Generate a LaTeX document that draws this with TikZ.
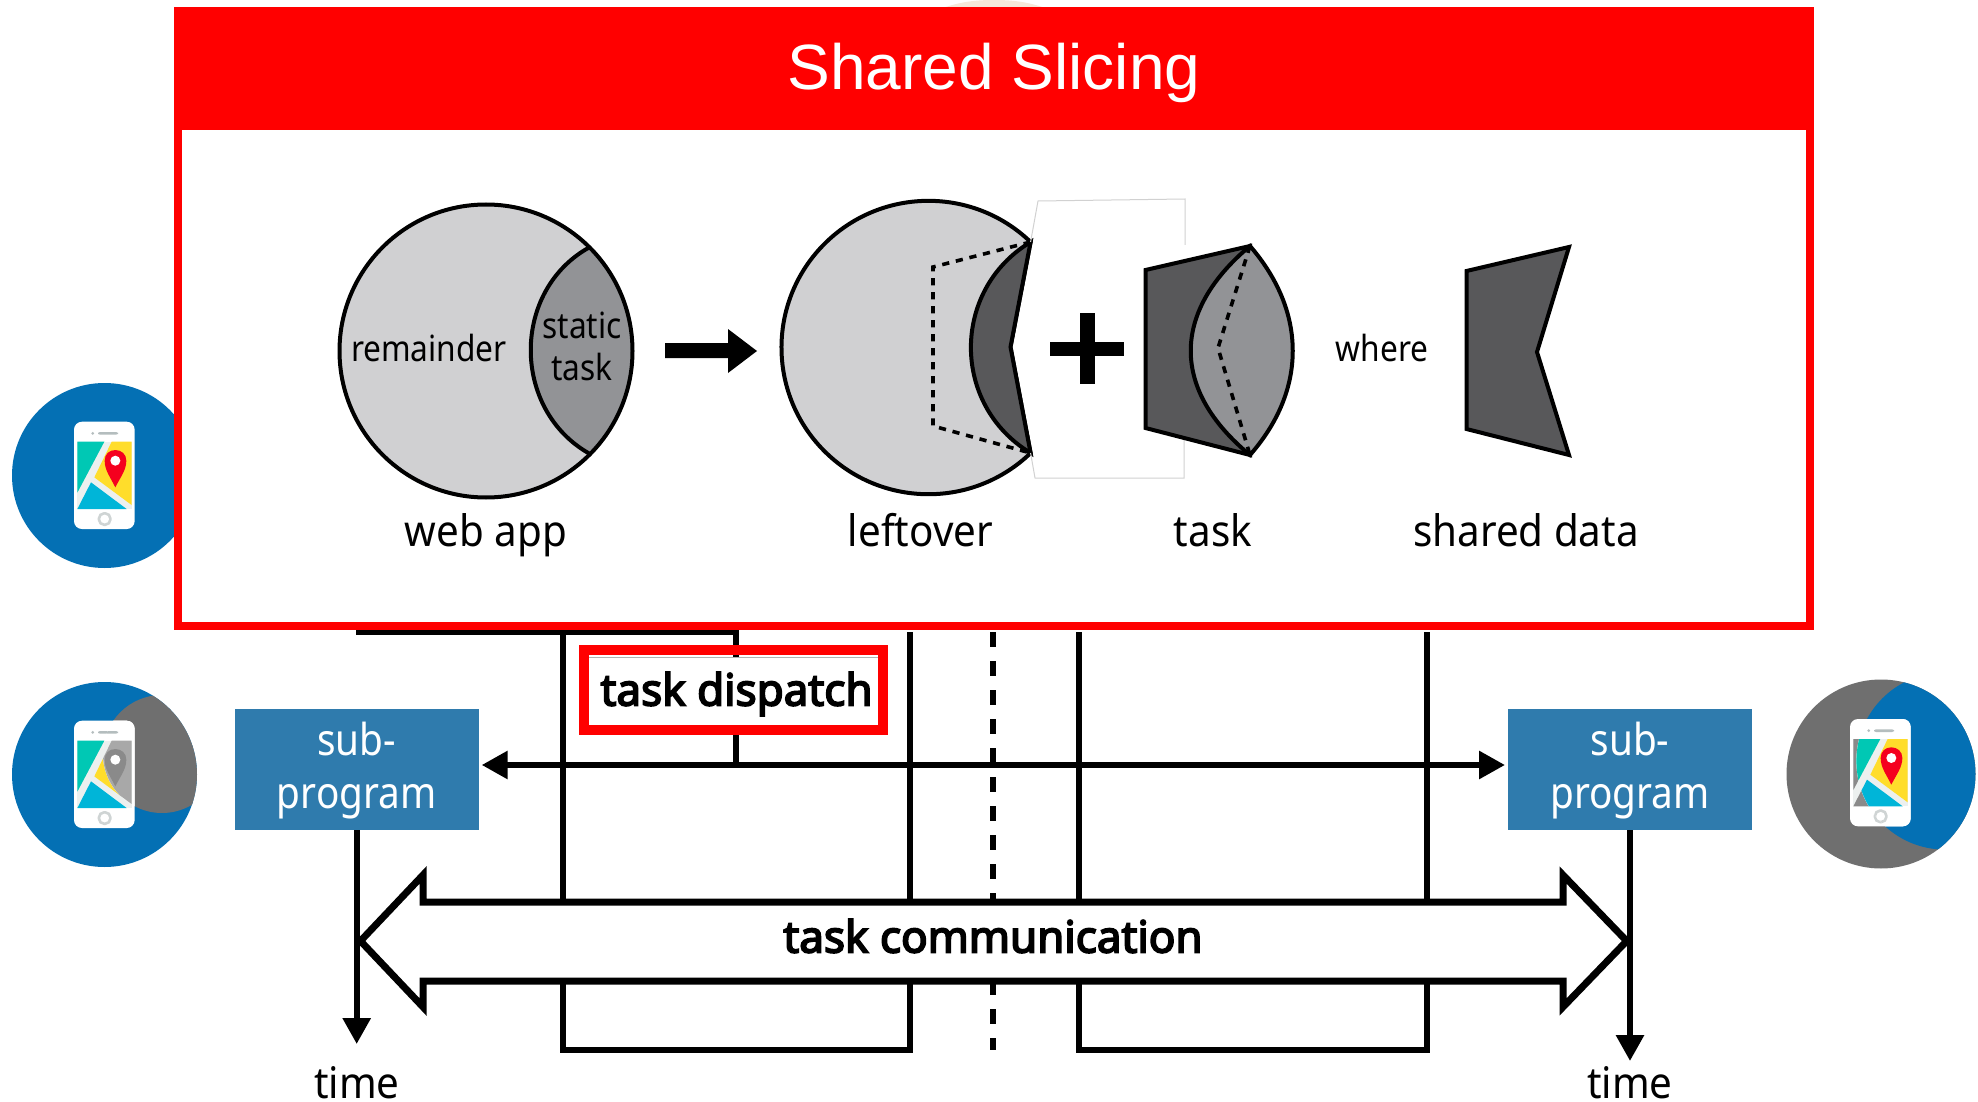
\documentclass[tikz,border=0pt]{standalone}
\usepackage{fontspec}
\setmainfont[FakeStretch=0.93]{Noto Sans}
\newfontfamily\smallf[FakeStretch=0.88]{Noto Sans}
\newfontfamily\heavyf[FakeBold=4]{Noto Sans}
\newfontfamily\titlef{Liberation Sans}
\usetikzlibrary{arrows.meta}
\definecolor{redmain}{HTML}{FF0000}
\definecolor{lightg}{HTML}{D0D0D2}
\definecolor{midg}{HTML}{929396}
\definecolor{darkg}{HTML}{58585A}
\definecolor{iconblue}{HTML}{0470B4}
\definecolor{icongray}{HTML}{6F6F6F}
\definecolor{subblue}{HTML}{2F7BAD}
\definecolor{road}{HTML}{ECF0EF}
\definecolor{mapteal}{HTML}{00C8B4}
\definecolor{mapyellow}{HTML}{FFDD2B}
\definecolor{mapcyan}{HTML}{00B5D8}
\definecolor{pinred}{HTML}{F5001E}
\definecolor{homeg}{HTML}{CFD4D4}
\definecolor{spk}{HTML}{B4BDBE}
\definecolor{peach}{HTML}{F6E8DA}
\tikzset{
  shapeline/.style={draw=black,line width=2pt,line join=miter,miter limit=10},
  heavy/.style={draw=black,line width=3pt},
  dashcut/.style={draw=black,line width=1.8pt,dash pattern=on 3.6pt off 3.4pt},
  lbl/.style={inner sep=0pt,outer sep=0pt,anchor=base,font=\fontsize{21.7}{26}\selectfont},
  small/.style={inner sep=0pt,outer sep=0pt,anchor=base,font=\smallf\fontsize{18}{22}\selectfont},
  boldlbl/.style={inner sep=0pt,outer sep=0pt,anchor=base,text=black,font=\heavyf\fontsize{22}{26}\selectfont},
  subbox/.style={fill=subblue,minimum width=122pt,minimum height=60.5pt,inner sep=0pt},
  subtxt/.style={inner sep=0pt,outer sep=0pt,anchor=base,text=white,font=\smallf\fontsize{22}{26}\selectfont},
  farrow/.style={heavy,-{Triangle[width=13.5pt,length=13pt]}},
  ghost/.style={draw=black!18,line width=0.5pt},
}
% x y teal yellow cyan pin
\newcommand{\phoneicon}[6]{%
\begin{scope}[shift={(#1,#2)},x=0.16667pt,y=-0.16667pt]
\fill[white,rounded corners=4pt] (0,0) rectangle (182,322);
\fill[road] (10,60) rectangle (173,262);
\fill[#3] (10,60) -- (91,60) -- (10,213) -- cycle;
\fill[#4] (113,60) -- (173,60) -- (173,250) -- (61,167) -- cycle;
\fill[#5] (10,262) -- (51,182) -- (158,262) -- cycle;
\fill[#6] (124,197) .. controls (108,165) and (92,145) .. (92,117) .. controls (92,97) and (106,85) .. (124,85) .. controls (142,85) and (157,97) .. (157,117) .. controls (157,145) and (140,165) .. (124,197) -- cycle;
\fill[white] (124,117) circle[radius=15];
\fill[spk] (56,35) circle[radius=4.5];
\fill[spk,rounded corners=1pt] (72,31) rectangle (132,39);
\draw[homeg,line width=1.3pt,fill=white,rounded corners=2.5pt] (75,275) rectangle (109,309);
\end{scope}}
\begin{document}
\begin{tikzpicture}[x=0.5pt,y=-0.5pt]
\useasboundingbox (0,0) rectangle (1978,1102);
\fill[white] (0,0) rectangle (1978,1102);

% device icons
\fill[iconblue] (104.5,475.5) circle[radius=92.5];
\phoneicon{74}{421.7}{mapteal}{mapyellow}{mapcyan}{pinred}

\fill[iconblue] (104.5,774.5) circle[radius=92.5];
\begin{scope}
\clip (104.5,774.5) circle[radius=92.5];
\fill[icongray] (162,754) circle[radius=59];
\end{scope}
\phoneicon{74}{720.7}{mapteal}{mapyellow}{mapcyan}{pinred}
\begin{scope}
\clip (162,754) circle[radius=59];
\phoneicon{74}{720.7}{mapteal}{black!34}{mapcyan}{black!46}
\end{scope}

\fill[icongray] (1881,774) circle[radius=94.5];
\begin{scope}
\clip (1881,774) circle[radius=94.5];
\fill[iconblue] (1945,761) circle[radius=88.6];
\end{scope}
\phoneicon{1850}{719}{black!46}{black!46}{black!46}{black!46}
\begin{scope}
\clip (1945,761) circle[radius=88.6];
\phoneicon{1850}{719}{mapteal}{mapyellow}{mapcyan}{pinred}
\end{scope}

% coordinates of the lower structure
\coordinate (tl) at (355.7,632);
\coordinate (tr) at (736.3,632);
\coordinate (dd) at (736.3,765);
\coordinate (a1) at (562.5,632);
\coordinate (a2) at (562.5,1050);
\coordinate (b1) at (910,632);
\coordinate (b2) at (910,1050);
\coordinate (c1) at (1078.6,632);
\coordinate (c2) at (1078.6,1050);
\coordinate (e1) at (1427,632);
\coordinate (e2) at (1427,1050);
\coordinate (m1) at (993,632);
\coordinate (m2) at (993,1050);

\draw[heavy] (tl) -- (tr) -- (dd);
\draw[heavy,line join=miter] (a1) -- (a2) -- (b2) -- (b1);
\draw[heavy,line join=miter] (c1) -- (c2) -- (e2) -- (e1);
\draw[black,line width=3.2pt,dash pattern=on 7.5pt off 7pt] (m1) -- (m2);

% sub-programs
\node[subbox] (subL) at (356.7,769.5) {};
\node[subbox] (subR) at (1630,769.5) {};
\node[subtxt] (subLa) at (356.7,755) {sub-};
\node[subtxt] (subLb) at (356.7,808) {program};
\node[subtxt] (subRa) at (1630,755) {sub-};
\node[subtxt] (subRb) at (1630,808) {program};
\coordinate (dl) at (481.7,765);
\coordinate (dr) at (1505,765);
\draw[heavy,{Triangle[width=13.5pt,length=13pt]}-{Triangle[width=13.5pt,length=13pt]}] (dl) -- (dr);
\coordinate (tlE) at (356.7,1044);
\coordinate (trE) at (1630,1061);
\draw[farrow] (subL.south) -- (tlE);
\draw[farrow] (subR.south) -- (trE);
\node[lbl] (timeL) at (357,1098) {time};
\node[lbl] (timeR) at (1630,1098) {time};

% task dispatch
\fill[white] (589,657) rectangle (878,726);
\draw[black!30,line width=0.5pt] (589,657) -- (878,657);
\node[draw=redmain,line width=5pt,minimum width=149.7pt,minimum height=40.25pt,inner sep=0pt] (disp) at (733.7,690.2) {};
\node[boldlbl] (dispT) at (736.6,705.5) {task dispatch};

% task communication block arrow
\draw[fill=white,draw=black,line width=3.5pt,line join=miter,miter limit=10]
 (360.5,941) -- (423,875) -- (423,902) -- (1563,902) -- (1563,875) -- (1626.7,941) -- (1563,1007) -- (1563,981) -- (423,981) -- (423,1007) -- cycle;
\node[boldlbl] (commT) at (993,952.5) {task communication};

% panel
\fill[peach] (943,8) .. controls (960,2) and (975,0) .. (994,0) .. controls (1013,0) and (1028,2) .. (1045,8) -- cycle;
\fill[white] (178,130) rectangle (1810,626);
\draw[redmain,line width=4pt,line join=miter] (178,125) rectangle (1810,626);
\fill[redmain] (174,7.5) rectangle (1814,130);
\node[inner sep=0pt,anchor=base,text=white,font=\titlef\fontsize{32}{36}\selectfont] (title) at (994,89.5) {Shared Slicing};

% web app
\fill[lightg] (486,351) circle[radius=146.5];
\begin{scope}
\clip (486,351) circle[radius=146.5];
\path[fill=midg] (590,247) .. controls (510,290) and (510,410) .. (590,454) -- (700,454) -- (700,247) -- cycle;
\end{scope}
\draw[shapeline] (590,247) .. controls (511,290) and (511,410) .. (590,454);
\draw[shapeline] (486,351) circle[radius=146.5];
\node[small] (rem) at (429,361) {remainder};
\node[small] (st1) at (582,338.5) {static};
\node[small] (st2) at (582,380.5) {task};
\node[lbl] (webT) at (486,546) {web app};

% big arrow
\fill[black] (665,343) -- (728,343) -- (728,329) -- (757,351) -- (728,373) -- (728,358) -- (665,358) -- cycle;

% leftover
\coordinate (lt) at (1030.6,242);
\coordinate (lb) at (1030.6,453);
\coordinate (lm) at (1010.5,347);
\coordinate (d1) at (933,267);
\coordinate (d2) at (933,426);
\path[fill=lightg,shapeline] (lt) arc[start angle=-46,end angle=-314,x radius=147,y radius=146.7] -- (lm) -- cycle;
\path[fill=darkg,shapeline] (lt) .. controls (951,290) and (951,405) .. (lb) -- (lm) -- cycle;
\draw[dashcut] (lt) -- (d1) -- (d2) -- (lb);
\node[lbl] (leftT) at (920.5,546) {leftover};

% ghost outline of the pasted patch
\draw[ghost] (1030.6,242) -- (1038,201) -- (1185,199) -- (1185,245);
\draw[ghost] (1184,433) -- (1184,478) -- (1035,478) -- (1030.6,453);

% plus
\fill[black] (1079.5,313) rectangle (1095,384);
\fill[black] (1050,342) rectangle (1124,356);

% task
\coordinate (p1) at (1145.5,270);
\coordinate (p2) at (1250,246);
\coordinate (p3) at (1250,455);
\coordinate (p4) at (1145.5,428);
\coordinate (p5) at (1218,348);
\path[fill=darkg,shapeline] (p1) -- (p2) -- (p3) -- (p4) -- cycle;
\path[fill=midg,shapeline] (p2) .. controls (1307,312) and (1307,390) .. (p3) .. controls (1171,390) and (1171,312) .. (p2) -- cycle;
\draw[dashcut] (p2) -- (p5) -- (p3);
\node[lbl] (taskT) at (1213,546) {task};
\node[small] (whereT) at (1382,361) {where};

% shared data
\path[fill=darkg,shapeline] (1466.5,271) -- (1569,247) -- (1537,352) -- (1569,455) -- (1466.5,429) -- cycle;
\node[lbl] (shT) at (1526,546) {shared data};
\end{tikzpicture}
\end{document}
